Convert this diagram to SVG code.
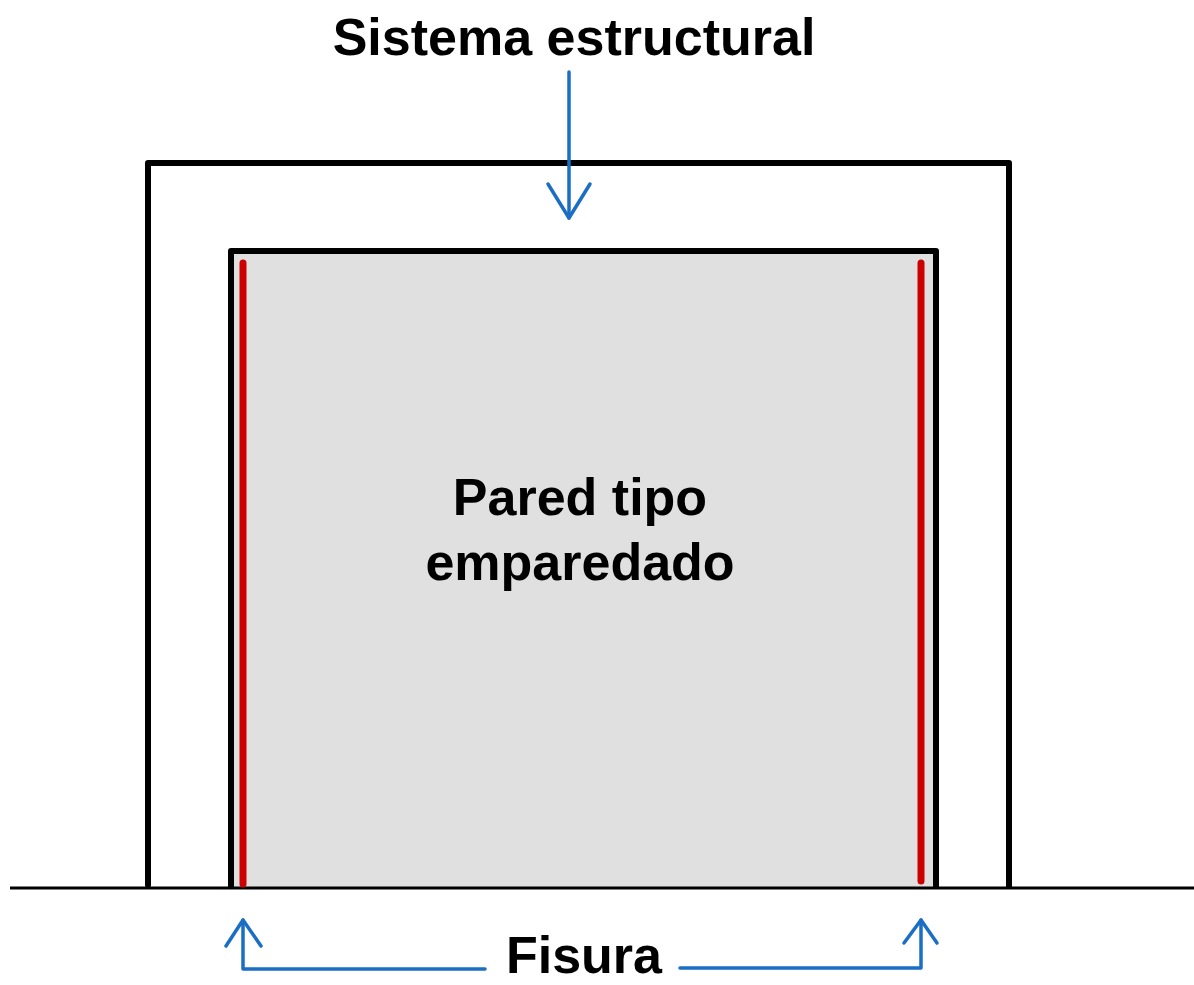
<svg xmlns="http://www.w3.org/2000/svg" width="1194" height="985" viewBox="0 0 1194 985">
<style>
.frame{fill:none;stroke:#000;stroke-width:6;stroke-linejoin:round;stroke-linecap:round}
.crack{stroke:#cc0000;stroke-width:7;stroke-linecap:round}
.blue{fill:none;stroke:#1a6fc4;stroke-width:3.5;stroke-linecap:round;stroke-linejoin:round}
.lbl{font-family:"Liberation Sans",Arial,sans-serif;font-weight:bold;font-size:52px;fill:#000;text-anchor:middle}
</style>
<rect width="1194" height="985" fill="#fff"/>
<g id="wall">
<rect x="233" y="254" width="702" height="634" fill="#e0e0e0"/>
<polyline class="frame" points="231,886 231,251 936,251 936,886"/>
<text class="lbl" x="580" y="515">Pared tipo</text>
<text class="lbl" x="580" y="580">emparedado</text>
</g>
<g id="structure">
<polyline class="frame" points="148,885 148,163 1009,163 1009,886"/>
</g>
<g id="ground">
<line x1="10" y1="888" x2="1194" y2="888" stroke="#000" stroke-width="3"/>
</g>
<g id="cracks">
<line class="crack" x1="243" y1="263" x2="243" y2="884"/>
<line class="crack" x1="921" y1="263" x2="921" y2="881"/>
</g>
<g id="connectors">
<line class="blue" x1="569" y1="72" x2="569" y2="218"/>
<polyline class="blue" points="548,184 569,218 590,184"/>
<polyline class="blue" points="485,969 243,969 243,920"/>
<polyline class="blue" points="226,946 243,920 261,946"/>
<polyline class="blue" points="680,968 921,968 921,920"/>
<polyline class="blue" points="904,943 921,920 937,943"/>
</g>
<g id="labels">
<text class="lbl" x="574" y="55">Sistema estructural</text>
<text class="lbl" x="584" y="973">Fisura</text>
</g>
</svg>
